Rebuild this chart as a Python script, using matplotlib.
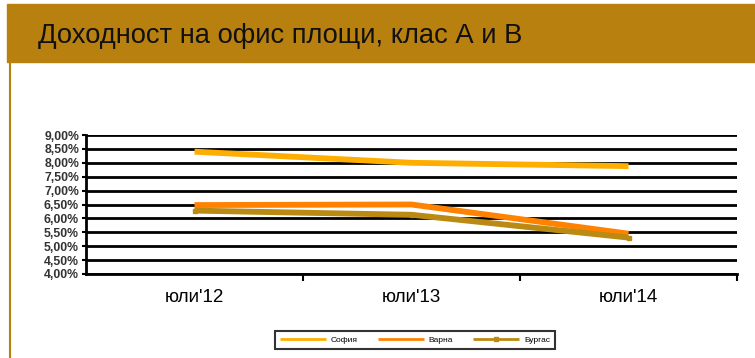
import matplotlib.pyplot as plt
import matplotlib.ticker as mticker
from matplotlib.patches import Rectangle
from matplotlib.lines import Line2D

plt.rcParams['font.family'] = ['Liberation Sans', 'DejaVu Sans']

# Данни
periodi = ["юли'12", "юли'13", "юли'14"]
sofia = [8.40, 8.00, 7.88]
varna = [6.48, 6.50, 5.45]
burgas = [6.28, 6.13, 5.31]

zlato = '#B8800F'

fig = plt.figure(figsize=(7.55, 3.58), dpi=100)
fig.patch.set_facecolor('white')

# Заглавна лента
fig.patches.append(Rectangle((7 / 755, 1 - 62 / 358), 1, 58 / 358,
                             transform=fig.transFigure, color=zlato, zorder=0))
fig.lines.append(Line2D([10 / 755, 10 / 755], [0, 1 - 62 / 358],
                        transform=fig.transFigure, color=zlato, lw=1.5))
fig.text(38 / 755, 1 - 36 / 358, 'Доходност на офис площи, клас А и В',
         fontsize=19.7, color='#111111', va='center', ha='left')

ax = fig.add_axes([86 / 755, 1 - 274 / 358, 651 / 755, 139 / 358])
x = range(len(periodi))
ax.plot(x, sofia, color='#FFAE00', lw=4.2, solid_capstyle='butt', label='София', zorder=3)
ax.plot(x, varna, color='#FF8200', lw=4.2, solid_capstyle='butt', label='Варна', zorder=3)
ax.plot(x, burgas, color='#BB8A12', lw=4.2, solid_capstyle='butt', label='Бургас',
        marker='s', markersize=2.5, zorder=3)

ax.set_xlim(-0.5, 2.5)
ax.set_ylim(4.0, 9.0)
ax.yaxis.set_major_locator(mticker.MultipleLocator(0.5))
ax.yaxis.set_major_formatter(mticker.FuncFormatter(lambda v, p: f'{v:.2f}'.replace('.', ',') + '%'))
ax.grid(axis='y', color='black', lw=2)
ax.set_axisbelow(True)

ax.set_xticks(list(x))
ax.set_xticklabels(periodi, fontsize=13.5)
ax.set_xticks([0.5, 1.5, 2.5], minor=True)
ax.tick_params(axis='x', which='major', length=0, pad=11)
ax.tick_params(axis='x', which='minor', length=5, width=1.5, direction='out')
ax.tick_params(axis='y', length=3, width=1.5, pad=2, labelsize=8.8, labelcolor='#333333')
for lbl in ax.get_yticklabels():
    lbl.set_fontweight('bold')

for s in ['top', 'right']:
    ax.spines[s].set_visible(False)
ax.spines['left'].set_linewidth(2)
ax.spines['bottom'].set_linewidth(2)

leg = fig.legend(loc='center', bbox_to_anchor=(415 / 755, 1 - 340 / 358), ncol=3,
                 fontsize=6, frameon=True, fancybox=False, edgecolor='black',
                 handlelength=5.5, handletextpad=0.6, columnspacing=2.4, borderpad=0.6)
leg.get_frame().set_linewidth(1.5)
for h in leg.get_lines():
    h.set_linewidth(2)

plt.savefig('out.png', dpi=100)
plt.close(fig)
